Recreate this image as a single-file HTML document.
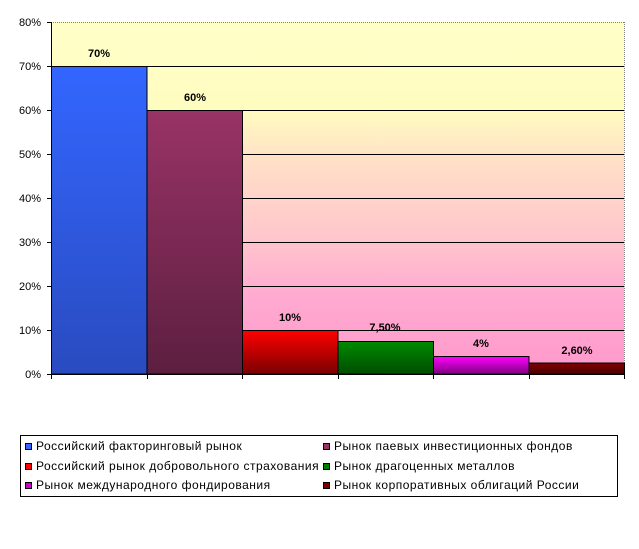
<!DOCTYPE html>
<html>
<head>
<meta charset="utf-8">
<style>
html,body{margin:0;padding:0;background:#fff;}
body{width:639px;height:549px;overflow:hidden;}
svg{display:block;}
text{font-family:"Liberation Sans","Noto Sans CJK SC",Arial,sans-serif;font-size:11px;fill:#000;}
text.lg{font-size:12px;letter-spacing:0.5px;}
</style>
</head>
<body>
<svg width="639" height="549" viewBox="0 0 639 549" xmlns="http://www.w3.org/2000/svg">
<defs>
<linearGradient id="bg" x1="0" y1="0" x2="0" y2="1">
<stop offset="0" stop-color="#ffffc8"/>
<stop offset="0.25" stop-color="#fffcc0"/>
<stop offset="0.42" stop-color="#ffdcc8"/>
<stop offset="0.6" stop-color="#ffc8cc"/>
<stop offset="0.78" stop-color="#ffaad0"/>
<stop offset="1" stop-color="#ff99cc"/>
</linearGradient>
<linearGradient id="gBlue" x1="0" y1="0" x2="0" y2="1">
<stop offset="0" stop-color="#3366ff"/>
<stop offset="1" stop-color="#2a4bc0"/>
</linearGradient>
<linearGradient id="gMar" x1="0" y1="0" x2="0" y2="1">
<stop offset="0" stop-color="#993366"/>
<stop offset="1" stop-color="#5c1f40"/>
</linearGradient>
<linearGradient id="gRed" x1="0" y1="0" x2="0" y2="1">
<stop offset="0" stop-color="#ff0000"/>
<stop offset="1" stop-color="#7a0000"/>
</linearGradient>
<linearGradient id="gGrn" x1="0" y1="0" x2="0" y2="1">
<stop offset="0" stop-color="#008a00"/>
<stop offset="1" stop-color="#004d00"/>
</linearGradient>
<linearGradient id="gMag" x1="0" y1="0" x2="0" y2="1">
<stop offset="0" stop-color="#ff00ff"/>
<stop offset="1" stop-color="#800080"/>
</linearGradient>
<linearGradient id="gDr" x1="0" y1="0" x2="0" y2="1">
<stop offset="0" stop-color="#800000"/>
<stop offset="1" stop-color="#4a0000"/>
</linearGradient>
</defs>

<rect x="51" y="22" width="573" height="352" fill="url(#bg)"/>
<line x1="51" y1="22.5" x2="624" y2="22.5" stroke="#808080" stroke-width="1" stroke-dasharray="1,1"/>
<line x1="624.5" y1="22" x2="624.5" y2="374" stroke="#808080" stroke-width="1" stroke-dasharray="1,1"/>

<g stroke="#000" stroke-width="1">
<line x1="51" y1="66.5" x2="624" y2="66.5"/>
<line x1="51" y1="110.5" x2="624" y2="110.5"/>
<line x1="51" y1="154.5" x2="624" y2="154.5"/>
<line x1="51" y1="198.5" x2="624" y2="198.5"/>
<line x1="51" y1="242.5" x2="624" y2="242.5"/>
<line x1="51" y1="286.5" x2="624" y2="286.5"/>
<line x1="51" y1="330.5" x2="624" y2="330.5"/>
</g>

<g stroke="#000" stroke-width="1">
<rect x="51.5" y="66.5" width="95.5" height="307.5" fill="url(#gBlue)"/>
<rect x="147" y="110.5" width="95.5" height="263.5" fill="url(#gMar)"/>
<rect x="242.5" y="330.5" width="95.5" height="43.5" fill="url(#gRed)"/>
<rect x="338" y="341.5" width="95.5" height="32.5" fill="url(#gGrn)"/>
<rect x="433.5" y="356.5" width="95.5" height="17.5" fill="url(#gMag)"/>
<rect x="529" y="363" width="95.5" height="11" fill="url(#gDr)"/>
</g>

<g stroke="#000" stroke-width="1">
<line x1="51.5" y1="22" x2="51.5" y2="375"/>
<line x1="51" y1="374.5" x2="625" y2="374.5"/>
<line x1="47" y1="22.5" x2="51" y2="22.5"/>
<line x1="47" y1="66.5" x2="51" y2="66.5"/>
<line x1="47" y1="110.5" x2="51" y2="110.5"/>
<line x1="47" y1="154.5" x2="51" y2="154.5"/>
<line x1="47" y1="198.5" x2="51" y2="198.5"/>
<line x1="47" y1="242.5" x2="51" y2="242.5"/>
<line x1="47" y1="286.5" x2="51" y2="286.5"/>
<line x1="47" y1="330.5" x2="51" y2="330.5"/>
<line x1="47" y1="374.5" x2="51" y2="374.5"/>
<line x1="51.5" y1="374" x2="51.5" y2="379"/>
<line x1="147.5" y1="374" x2="147.5" y2="379"/>
<line x1="242.5" y1="374" x2="242.5" y2="379"/>
<line x1="338.5" y1="374" x2="338.5" y2="379"/>
<line x1="433.5" y1="374" x2="433.5" y2="379"/>
<line x1="529.5" y1="374" x2="529.5" y2="379"/>
<line x1="624.5" y1="374" x2="624.5" y2="379"/>
</g>

<g text-anchor="end">
<text x="41" y="26">80%</text>
<text x="41" y="70">70%</text>
<text x="41" y="114">60%</text>
<text x="41" y="158">50%</text>
<text x="41" y="202">40%</text>
<text x="41" y="246">30%</text>
<text x="41" y="290">20%</text>
<text x="41" y="334">10%</text>
<text x="41" y="378">0%</text>
</g>

<g text-anchor="middle">
<text x="99" y="57" font-weight="bold">70%</text>
<text x="195" y="101" font-weight="bold">60%</text>
<text x="290" y="321" font-weight="bold">10%</text>
<text x="385" y="331" font-weight="bold">7,50%</text>
<text x="481" y="347" font-weight="bold">4%</text>
<text x="577" y="354" font-weight="bold">2,60%</text>
</g>

<rect x="20.5" y="435.5" width="597" height="61" fill="#fff" stroke="#000" stroke-width="1"/>
<g stroke="#000" stroke-width="1">
<rect x="25.5" y="443.5" width="6" height="6" fill="#3366ff"/>
<rect x="25.5" y="463.5" width="6" height="6" fill="#ff0000"/>
<rect x="25.5" y="482.5" width="6" height="6" fill="#cc00cc"/>
<rect x="323.5" y="443.5" width="6" height="6" fill="#993366"/>
<rect x="323.5" y="463.5" width="6" height="6" fill="#008000"/>
<rect x="323.5" y="482.5" width="6" height="6" fill="#800000"/>
</g>
<text class="lg" x="36" y="450">Российский факторинговый рынок</text>
<text class="lg" x="36" y="470">Российский рынок добровольного страхования</text>
<text class="lg" x="36" y="489">Рынок международного фондирования</text>
<text class="lg" x="334" y="450">Рынок паевых инвестиционных фондов</text>
<text class="lg" x="334" y="470">Рынок драгоценных металлов</text>
<text class="lg" x="334" y="489">Рынок корпоративных облигаций России</text>
</svg>
</body>
</html>
